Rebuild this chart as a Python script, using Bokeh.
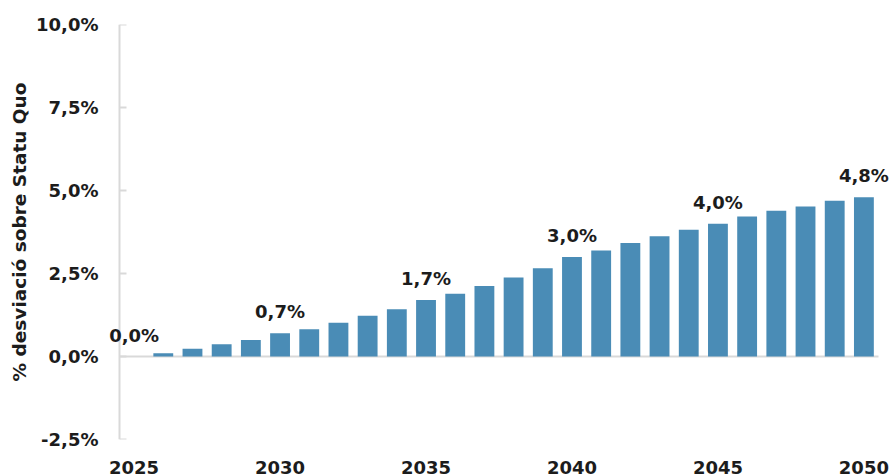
from bokeh.plotting import figure
from bokeh.models import ColumnDataSource, Range1d, FixedTicker, Span, LabelSet, Title
from bokeh.core.properties import value
from bokeh.embed import file_html
from bokeh.resources import INLINE

# Data: % deviation over the status quo, per year
years = list(range(2025, 2051))
values = [0.0, 0.10, 0.23, 0.37, 0.50, 0.7, 0.82, 1.02, 1.23, 1.42,
          1.7, 1.89, 2.12, 2.38, 2.66, 3.0, 3.19, 3.42, 3.62, 3.82,
          4.0, 4.22, 4.39, 4.52, 4.69, 4.8]
labelled_years = [2025, 2030, 2035, 2040, 2045, 2050]
y_ticks = [-2.5, 0.0, 2.5, 5.0, 7.5, 10.0]
y_tick_labels = ["-2,5%", "0,0%", "2,5%", "5,0%", "7,5%", "10,0%"]
x_ticks = [2025, 2030, 2035, 2040, 2045, 2050]
y_title = "% desviació sobre Statu Quo"

FONT = "DejaVu Sans"
FSIZE = "18px"
TEXT = "#1c1c1c"
GREY = "#d9d9d9"
BAR = "#4a8cb6"

def fmt(v):
    return f"{v:.1f}".replace(".", ",") + "%"

src = ColumnDataSource(dict(year=years, value=values))
lab_vals = [values[years.index(y)] for y in labelled_years]
lab_src = ColumnDataSource(dict(year=labelled_years, value=lab_vals,
                                text=[fmt(v) for v in lab_vals]))

# Canvas geometry: the plotted band runs from the axis spine (x=119)
# to x=878; the frame is a bit wider so edge labels are not cut.
W, H = 891, 476
FRAME_L, FRAME_R = 104, 891
SPINE_X, END_X = 119, 878
x_lo, x_hi = years[0] - 0.5, years[-1] + 0.5
ppu = (END_X - SPINE_X) / (x_hi - x_lo)
x_start = x_lo - (SPINE_X - FRAME_L) / ppu
x_end = x_hi + (FRAME_R - END_X) / ppu

p = figure(width=W, height=H, output_backend="svg", toolbar_location=None,
           x_range=Range1d(x_start, x_end), y_range=Range1d(-2.5, 10.0),
           min_border_left=FRAME_L, min_border_right=W - FRAME_R,
           min_border_top=24, min_border_bottom=37)
p.outline_line_color = None
p.xgrid.visible = False
p.ygrid.visible = False
p.background_fill_color = "white"
p.border_fill_color = "white"

# axis spine, inward ticks and zero line
p.add_layout(Span(location=x_lo, dimension="height", line_color=GREY, line_width=2))
p.ray(x=[x_lo] * len(y_ticks), y=y_ticks, length=7, length_units="screen",
      angle=0, line_color=GREY, line_width=2)
p.segment(x0=[x_lo], y0=[0], x1=[x_hi], y1=[0], line_color=GREY, line_width=2)

p.vbar(x="year", top="value", bottom=0, width=0.68, source=src,
       fill_color=BAR, line_color=None)

# value labels above selected bars
p.add_layout(LabelSet(x="year", y="value", text="text", source=lab_src,
                      y_offset=15, text_align="center", text_baseline="alphabetic",
                      text_font=value(FONT), text_font_style="bold",
                      text_font_size=value(FSIZE), text_color=TEXT))

# y axis: labels only
ya = p.yaxis[0]
ya.ticker = FixedTicker(ticks=y_ticks)
ya.major_label_overrides = {t: l for t, l in zip(y_ticks, y_tick_labels)}
ya.axis_line_color = None
ya.major_tick_line_color = None
ya.minor_tick_line_color = None
ya.major_label_standoff = 0
ya.major_label_text_font = FONT
ya.major_label_text_font_style = "bold"
ya.major_label_text_font_size = FSIZE
ya.major_label_text_color = TEXT

# x axis: labels only
xa = p.xaxis[0]
xa.ticker = FixedTicker(ticks=x_ticks)
xa.axis_line_color = None
xa.major_tick_line_color = None
xa.minor_tick_line_color = None
xa.major_label_standoff = 15
xa.major_label_text_font = FONT
xa.major_label_text_font_style = "bold"
xa.major_label_text_font_size = FSIZE
xa.major_label_text_color = TEXT

# rotated y title
p.add_layout(Title(text=y_title, align="center", offset=0, standoff=8,
                   text_font=FONT, text_font_style="bold", text_font_size="18.5px",
                   text_color=TEXT), "left")

open("out.html", "w").write(file_html(p, INLINE))
